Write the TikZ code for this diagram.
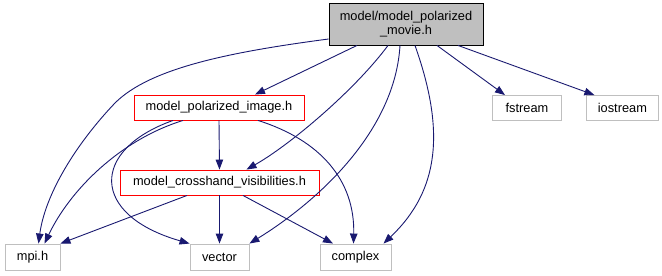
\documentclass[tikz,border=0pt]{standalone}
\usepackage{fontspec}
\setmainfont{Liberation Sans}
\usetikzlibrary{arrows.meta,positioning}
\definecolor{midblue}{RGB}{25,25,112}
\definecolor{lightgray}{RGB}{191,191,191}

\begin{document}
\begin{tikzpicture}[
      x=1pt, y=-1pt,
      mybox/.style={
         rectangle,
         draw=lightgray,
         fill=white,
         line width=0.9pt,
         inner sep=0pt,
         minimum height=25pt,
         font=\fontsize{12.8}{14}\selectfont},
      myredbox/.style={mybox, draw=red},
      mytopbox/.style={mybox, draw=black, fill=lightgray, align=center, minimum height=42pt},
      myarrow/.style={-{Triangle[length=10pt,width=7.5pt]}, draw=midblue, line width=0.9pt}
      ]
      \useasboundingbox (0,0) rectangle (662,276);

      \node[mytopbox, minimum width=154pt] (top) at (406,24) {model/model\_polarized\\\_movie.h};
      \node[myredbox, minimum width=170pt] (img) at (219,107.5) {model\_polarized\_image.h};
      \node[myredbox, minimum width=199pt] (cross) at (219.5,182.5) {model\_crosshand\_visibilities.h};
      \node[mybox, minimum width=69pt] (fst) at (527,108) {fstream};
      \node[mybox, minimum width=72pt, right=24pt of fst] (iost) {iostream};
      \node[mybox, minimum width=55pt, minimum height=26pt] (mpi) at (32.5,257) {mpi.h};
      \node[mybox, minimum width=59pt, minimum height=26pt] (vec) at (219.5,257) {vector};
      \node[mybox, minimum width=71pt, minimum height=26pt] (cplx) at (355.5,257) {complex};

    \foreach \i/\a/\p/\j/\b/\q in {% start node/anchor/shift/end node/anchor/shift
      top/south/-49/img/north/36,
      top/south/31/fst/north/-22,
      top/south/52/iost/north/-28,
      img/south/0/cross/north/0,
      cross/south/0/vec/north/0,
      cross/south/-32.5/mpi/north east/0,
      cross/south/23.5/cplx/north/-22.5}
       \draw [myarrow] ([xshift=\p]\i.\a) -- ([xshift=\q]\j.\b);

     % curved ones
     \draw [myarrow] ([yshift=-15]top.west) .. controls (230,52) and (150,68) .. (115,103)
        .. controls (75,145) and (45,195) .. ([xshift=6]mpi.north);
     \draw [myarrow] ([xshift=-18]top.south) .. controls (355,90) and (290,145) .. ([xshift=27]cross.north);
     \draw [myarrow] ([xshift=-6]top.south) .. controls (395,130) and (320,200) .. (vec.north east);
     \draw [myarrow] ([xshift=9]top.south) .. controls (445,130) and (440,190) .. ([xshift=28]cplx.north);
     \draw [myarrow] ([xshift=-36]img.south) .. controls (120,140) and (70,190) .. ([xshift=12]mpi.north);
     \draw [myarrow] ([xshift=-46]img.south) .. controls (90,150) and (90,215) .. (vec.north west);
     \draw [myarrow] ([xshift=39]img.south) .. controls (320,140) and (355,180) .. ([xshift=-2]cplx.north);
\end{tikzpicture}
\end{document}
